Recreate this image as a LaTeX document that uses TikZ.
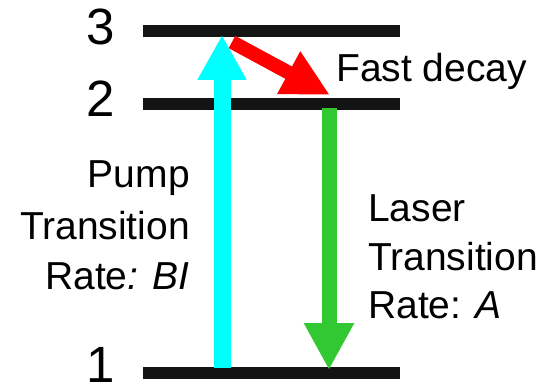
\documentclass[tikz,border=0pt]{standalone}
\usepackage{fontspec}
\setmainfont{Liberation Sans}
\usepackage{tikz}
\usetikzlibrary{arrows.meta, positioning}

\definecolor{pumpcyan}{RGB}{0,255,255}
\definecolor{lasergreen}{RGB}{50,200,50}

\begin{document}
\begin{tikzpicture}[x=1pt, y=-1pt, line cap=butt,
    level/.style={line width=12.5pt, color=black!92},
    lbl/.style={inner sep=0pt, font=\fontsize{39}{49}\selectfont},
    num/.style={inner sep=0pt, font=\fontsize{51}{56}\selectfont}]
    \useasboundingbox (0,0) rectangle (549,390);
    % the three levels
    \coordinate (3a) at (143,31);  \coordinate (3b) at (400,31);
    \coordinate (2a) at (143,104); \coordinate (2b) at (400,104);
    \coordinate (1a) at (143,373); \coordinate (1b) at (400,373);
    \draw[level] (3a) -- (3b);
    \draw[level] (2a) -- (2b);
    \draw[level] (1a) -- (1b);
    \node[num] (n3) at (101,27) {3};
    \node[num] (n2) at (101,99) {2};
    \node[num] (n1) at (101,365) {1};
    % ends of the arrows
    \coordinate (pumpfrom) at (222,368);
    \coordinate (pumpto) at (222,35);
    \coordinate (decayfrom) at (232,42);
    \coordinate (decayto) at (330,95);
    \coordinate (laserfrom) at (329,108);
    \coordinate (laserto) at (329,370);
    \draw[line width=17pt, color=pumpcyan, -{Triangle[length=45pt, width=46pt]}] (pumpfrom) -- (pumpto);
    \draw[line width=14pt, color=red, -{Triangle[length=47pt, width=45pt]}] (decayfrom) -- (decayto);
    \draw[line width=15pt, color=lasergreen, -{Triangle[length=47pt, width=47pt]}] (laserfrom) -- (laserto);
    % labels
    \node[lbl, anchor=base west] (decay) at (336,82) {Fast decay};
    \node[lbl, anchor=base east] (pump1) at (190,188) {Pump};
    \node[lbl, anchor=base east] (pump2) at (190,240) {Transition};
    \node[lbl, anchor=base east] (pump3) at (190,290) {Rate\textit{: BI}};
    \node[lbl, anchor=base west] (laser1) at (368,222) {Laser};
    \node[lbl, anchor=base west] (laser2) at (368,270) {Transition};
    \node[lbl, anchor=base west] (laser3) at (368,318) {Rate: \textit{A}};
\end{tikzpicture}
\end{document}
